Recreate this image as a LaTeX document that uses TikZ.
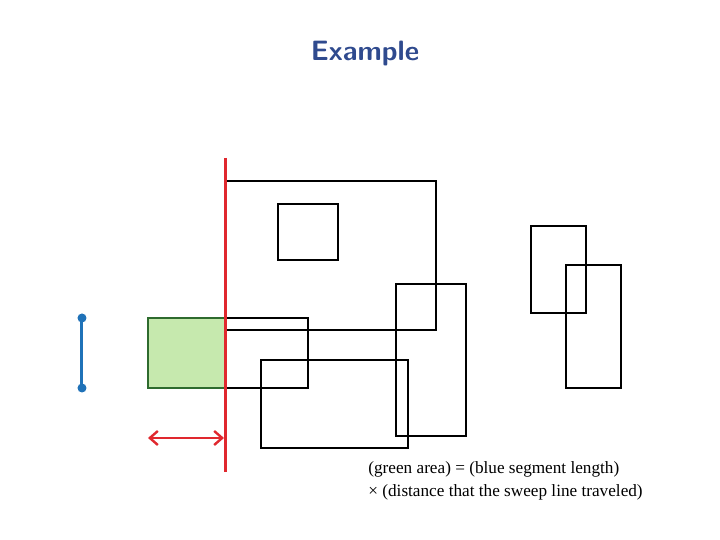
\documentclass[tikz,border=0pt]{standalone}
\usepackage{fontspec}
\newfontfamily\capfont{Liberation Serif}
\usetikzlibrary{arrows.meta}
\definecolor{titleblue}{HTML}{2F4A8E}
\definecolor{sweepred}{HTML}{E0282E}
\definecolor{segblue}{HTML}{1F72B8}
\definecolor{greenfill}{HTML}{C6E9AE}
\definecolor{greenedge}{HTML}{2E6B2E}
\begin{document}
\begin{tikzpicture}[x=0.5pt,y=-0.5pt,
  box/.style={draw=black,line width=1.4pt},
  sweep/.style={draw=sweepred,line width=1.5pt},
  dot/.style={circle,fill=segblue,inner sep=0pt,minimum size=4.5pt}]
\useasboundingbox (0,0) rectangle (720,540);
\node[font=\sffamily\bfseries\fontsize{14}{16}\selectfont,text=titleblue] (title) at (365,54) {Example};
% green area
\fill[greenfill,draw=greenedge,line width=0.6pt] (148,318) rectangle (226,388);
% rectangles
\draw[box] (226,181) rectangle (436,330);
\draw[box] (278,204) rectangle (338,260);
\draw[box] (226,318) rectangle (308,388);
\draw[box] (261,360) rectangle (408,448);
\draw[box] (396,284) rectangle (466,436);
\draw[box] (531,226) rectangle (586,313);
\draw[box] (566,265) rectangle (621,388);
% sweep line
\coordinate (st) at (226,158);
\coordinate (sb) at (226,472);
\draw[sweep] (st) -- (sb);
% arrow
\coordinate (al) at (148,438);
\coordinate (ar) at (224,438);
\draw[sweep,line width=1.2pt,{Straight Barb[length=4pt,width=7pt]}-{Straight Barb[length=4pt,width=7pt]}] (al) -- (ar);
% blue segment
\node[dot] (bt) at (82,318) {};
\node[dot] (bb) at (82,388) {};
\draw[segblue,line width=1.5pt] (bt.center) -- (bb.center);
% caption
\node[anchor=north west,align=left,inner sep=0pt,font=\capfont\fontsize{8.6}{11.5}\selectfont] (cap) at (368,461)
  {(green area) = (blue segment length)\\ × (distance that the sweep line traveled)};
\end{tikzpicture}
\end{document}
